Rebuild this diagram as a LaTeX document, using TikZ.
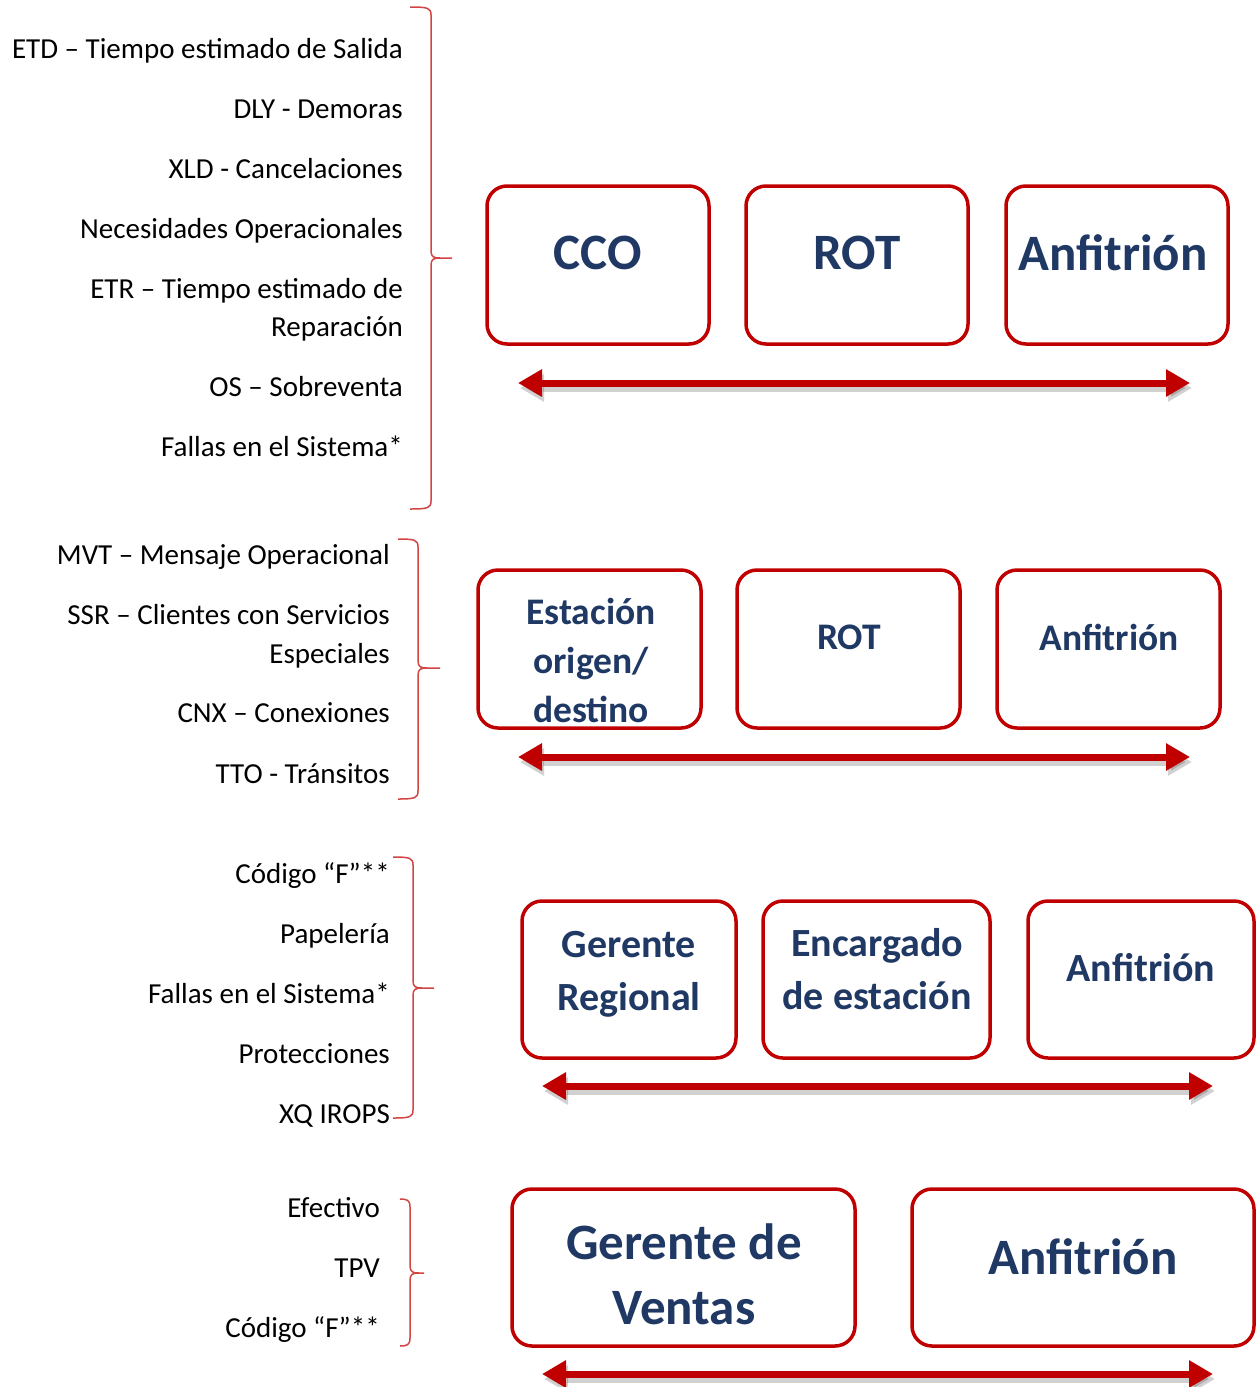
\documentclass[tikz,border=0pt]{standalone}
\usepackage{fontspec}
\setmainfont{Carlito}
\usetikzlibrary{arrows.meta}
\definecolor{boxred}{HTML}{C00000}
\definecolor{bracered}{HTML}{D24545}
\definecolor{navy}{HTML}{1F3864}
\tikzset{
  x=1pt, y=-1pt,
  box/.style={draw=boxred, line width=3.5pt, rounded corners=20pt, minimum width=#1, inner sep=0pt},
  box/.default=222pt,
  lefttxt/.style={anchor=base east, inner sep=0pt, font=\fontsize{29}{34}\selectfont, text=black},
  lblA/.style={font=\fontsize{51}{60}\selectfont\bfseries, text=navy, align=center, inner sep=0pt},
  lblB/.style={font=\fontsize{37.5}{49}\selectfont\bfseries, text=navy, align=center, inner sep=0pt},
  lblC/.style={font=\fontsize{40}{53}\selectfont\bfseries, text=navy, align=center, inner sep=0pt},
  lblD/.style={font=\fontsize{51}{65}\selectfont\bfseries, text=navy, align=center, inner sep=0pt},
  dblarrow/.style={draw=boxred, line width=7pt, {Triangle[length=24pt,width=26pt]}-{Triangle[length=24pt,width=26pt]}},
  arrshadow/.style={draw=black, opacity=0.18, line width=8pt, {Triangle[length=24pt,width=26pt]}-{Triangle[length=24pt,width=26pt]}},
  brace/.style={draw=bracered, line width=1.5pt},
}
\newcommand{\mybrace}[6]{%
  % #1 x0, #2 x1, #3 xtip, #4 ytop, #5 ymid, #6 ybot
  \draw[brace] (#1,#4) .. controls (#2-3,#4) and (#2,#4+1) .. (#2,#4+8)
    -- (#2,#5-7) .. controls (#2,#5-1) and (#2+3,#5) .. (#2+9,#5) -- (#3,#5);
  \draw[brace] (#2+9,#5) .. controls (#2+3,#5) and (#2,#5+1) .. (#2,#5+7)
    -- (#2,#6-8) .. controls (#2,#6-1) and (#2-3,#6) .. (#1,#6);
}
\begin{document}
\begin{tikzpicture}
\useasboundingbox (0,0) rectangle (1257,1387);
\fill[white] (0,0) rectangle (1257,1387);

% ---------- Group 1 ----------
\node[lefttxt] (g1a) at (403,58) {ETD – Tiempo estimado de Salida};
\node[lefttxt] (g1b) at (403,118) {DLY - Demoras};
\node[lefttxt] (g1c) at (403,178) {XLD - Cancelaciones};
\node[lefttxt] (g1d) at (403,238) {Necesidades Operacionales};
\node[lefttxt] (g1e) at (403,298) {ETR – Tiempo estimado de};
\node[lefttxt] (g1f) at (403,336) {Reparación};
\node[lefttxt] (g1g) at (403,396) {OS – Sobreventa};
\node[lefttxt] (g1h) at (403,456) {Fallas en el Sistema*};
\mybrace{410}{431}{452}{7}{258}{509}

\node[box, minimum height=158pt] (b11) at (598,265) {};
\node[box, minimum height=158pt] (b12) at (857,265) {};
\node[box, minimum height=158pt] (b13) at (1117,265) {};
\node[lblA] (t11) at (598,253) {CCO};
\node[lblA] (t12) at (857,253) {ROT};
\node[lblA] (t13) at (1113,253) {Anfitrión};
\coordinate (a1l) at (518,383);
\coordinate (a1r) at (1190,383);
\draw[arrshadow] ([shift={(2,5)}]a1l) -- ([shift={(2,5)}]a1r);
\draw[dblarrow] (a1l) -- (a1r);

% ---------- Group 2 ----------
\node[lefttxt] (g2a) at (390,564) {MVT – Mensaje Operacional};
\node[lefttxt] (g2b) at (390,624) {SSR – Clientes con Servicios};
\node[lefttxt] (g2c) at (390,663) {Especiales};
\node[lefttxt] (g2d) at (390,722) {CNX – Conexiones};
\node[lefttxt] (g2e) at (390,783) {TTO - Tránsitos};
\mybrace{398}{418}{440}{539}{668}{799}

\node[box=223pt, minimum height=158pt] (b21) at (589.5,649) {};
\node[box=223pt, minimum height=158pt] (b22) at (848.5,649) {};
\node[box=223pt, minimum height=158pt] (b23) at (1108.5,649) {};
\node[lblB] (t21) at (591,660) {Estación\\origen/\\destino};
\node[lblB] (t22) at (849,637) {ROT};
\node[lblB] (t23) at (1109,637) {Anfitrión};
\coordinate (a2l) at (518,757);
\coordinate (a2r) at (1190,757);
\draw[arrshadow] ([shift={(2,5)}]a2l) -- ([shift={(2,5)}]a2r);
\draw[dblarrow] (a2l) -- (a2r);

% ---------- Group 3 ----------
\node[lefttxt] (g3a) at (390,883) {Código “F”**};
\node[lefttxt] (g3b) at (390,943) {Papelería};
\node[lefttxt] (g3c) at (390,1003) {Fallas en el Sistema*};
\node[lefttxt] (g3d) at (390,1063) {Protecciones};
\node[lefttxt] (g3e) at (390,1123) {XQ IROPS};
\mybrace{393}{413}{434}{857}{988}{1118}

\node[box=214pt, minimum height=157pt] (b31) at (629,979.5) {};
\node[box=227pt, minimum height=157pt] (b32) at (876.5,979.5) {};
\node[box=226pt, minimum height=157pt] (b33) at (1141,979.5) {};
\node[lblC] (t31) at (629,974) {Gerente\\Regional};
\node[lblC] (t32) at (877,969) {Encargado\\de estación};
\node[lblC] (t33) at (1141,968) {Anfitrión};
\coordinate (a3l) at (542,1086);
\coordinate (a3r) at (1213,1086);
\draw[arrshadow] ([shift={(2,5)}]a3l) -- ([shift={(2,5)}]a3r);
\draw[dblarrow] (a3l) -- (a3r);

% ---------- Group 4 ----------
\node[lefttxt] (g4a) at (380,1217) {Efectivo};
\node[lefttxt] (g4b) at (380,1277) {TPV};
\node[lefttxt] (g4c) at (380,1337) {Código “F”**};
\mybrace{400}{410}{424}{1199}{1273}{1346}

\node[box=343pt, minimum height=157pt] (b41) at (683.5,1267.5) {};
\node[box=342pt, minimum height=157pt] (b42) at (1083,1267.5) {};
\node[lblD] (t41) at (684,1274) {Gerente de\\Ventas};
\node[lblD] (t42) at (1083,1257) {Anfitrión};
\coordinate (a4l) at (542,1374);
\coordinate (a4r) at (1213,1374);
\draw[arrshadow] ([shift={(2,5)}]a4l) -- ([shift={(2,5)}]a4r);
\draw[dblarrow] (a4l) -- (a4r);
\end{tikzpicture}
\end{document}
